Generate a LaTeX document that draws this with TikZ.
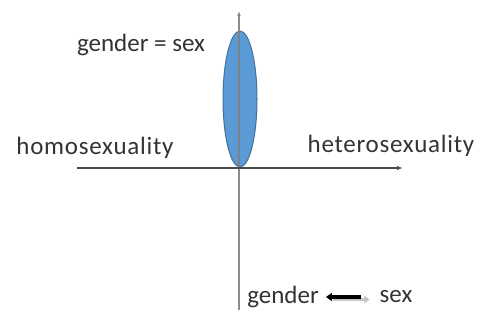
\documentclass[tikz,border=0pt]{standalone}
\usepackage{fontspec}
\setmainfont{Carlito}
\usetikzlibrary{arrows.meta}
\definecolor{txtgray}{HTML}{333333}
\definecolor{ellblue}{HTML}{5B9BD5}
\definecolor{ellrim}{HTML}{41719C}
\tikzset{lbl/.style={inner sep=0pt, text=txtgray, font=\fontsize{25}{29}\selectfont},
  wide/.style={font=\fontsize{25}{29}\selectfont\addfontfeature{LetterSpace=3}}}
\begin{document}
\begin{tikzpicture}[x=1pt,y=1pt]
\useasboundingbox (0,0) rectangle (484,327);
\filldraw[fill=ellblue, draw=ellrim, line width=1pt] (240,228) ellipse (17 and 68);
\draw[gray, line width=1.5pt, opacity=0.9, -{Latex[length=5pt]}] (239,17) -- (239,316);
\draw[black!70, line width=2.5pt, -{Latex[length=6pt]}] (77,159) -- (403,159);
\node[lbl, wide] (homo) at (95,179) {homosexuality};
\node[lbl, wide] (hetero) at (391,181) {heterosexuality};
\node[lbl] (equal) at (141,282) {gender = sex};
\node[lbl] (gender) at (283,30) {gender};
\node[lbl] (sex) at (396,30) {sex};
% sex -> gender
\draw[gray!45, line width=3.5pt, -{Triangle[length=5pt,width=8pt]}, shorten <=14pt, shorten >=10pt, transform canvas={yshift=-2.5pt}] (gender.east) -- (sex.west);
\draw[black, line width=3.5pt, -{Triangle[length=6pt,width=8pt]}, shorten <=18pt, shorten >=7pt] (sex.west) -- (gender.east);
\end{tikzpicture}
\end{document}
